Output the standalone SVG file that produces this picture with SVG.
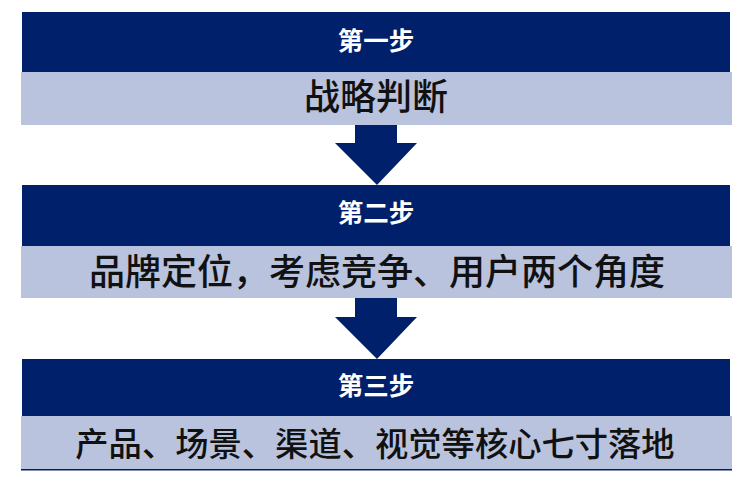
<svg xmlns="http://www.w3.org/2000/svg" width="750" height="493" viewBox="0 0 750 493">
<style>
.hd{fill:#00206b}
.bd{fill:#b9c3dd}
.ht{font-family:"Noto Sans CJK SC","Noto Sans",sans-serif;font-weight:bold;font-size:25.5px;fill:#ffffff;text-anchor:middle}
.bt{font-family:"Noto Sans CJK SC","Noto Sans",sans-serif;font-weight:500;font-size:36px;fill:#111111;text-anchor:middle}
.ar{fill:#00206b}
</style>
<rect width="750" height="493" fill="#ffffff"/>
<g id="step1">
<rect class="hd" x="22" y="12" width="708" height="60"/>
<rect class="bd" x="21" y="72" width="711" height="53"/>
<text class="ht" x="376" y="50">第一步</text>
<text class="bt" x="376" y="110">战略判断</text>
</g>
<g id="step2">
<rect class="hd" x="22" y="185" width="708" height="61"/>
<rect class="bd" x="21" y="246" width="711" height="52"/>
<text class="ht" x="376" y="222">第二步</text>
<text class="bt" x="377" y="285">品牌定位，考虑竞争、用户两个角度</text>
</g>
<g id="step3">
<rect class="hd" x="22" y="359" width="708" height="57"/>
<rect class="bd" x="21" y="416" width="711" height="54"/>
<rect class="hd" x="21" y="469" width="711" height="1.5"/>
<text class="ht" x="376" y="395">第三步</text>
<text class="bt" x="375" y="456" style="font-size:33.3px">产品、场景、渠道、视觉等核心七寸落地</text>
</g>
<g id="connectors">
<polygon class="ar" points="355,125 397,125 397,143 417,143 377,185 335,143 355,143"/>
<polygon class="ar" points="355,298 397,298 397,317 417,317 377,359 335,317 355,317"/>
</g>
</svg>
